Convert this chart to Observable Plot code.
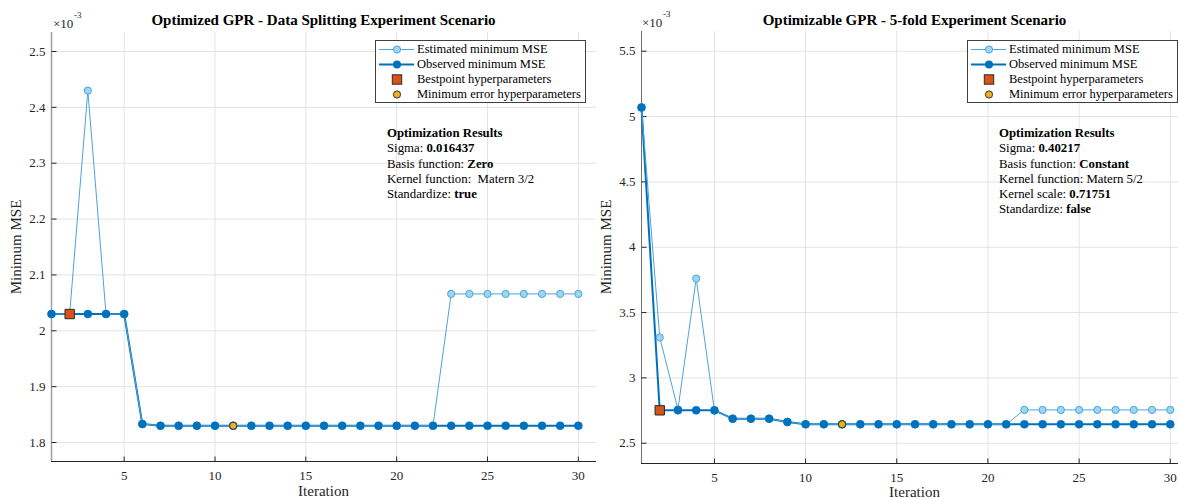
<!DOCTYPE html>
<html>
<head>
<meta charset="utf-8">
<script src="https://cdn.jsdelivr.net/npm/d3@7"></script>
<script src="https://cdn.jsdelivr.net/npm/@observablehq/plot@0.6"></script>
<style>
html, body { margin: 0; padding: 0; overflow: hidden; background: #fff; width: 1178px; height: 499px; }
#root { position: relative; width: 1178px; height: 499px; font-family: "Liberation Serif", "Times New Roman", serif; color: #000; overflow: hidden; }
#root svg, #root svg text { font-family: "Liberation Serif", "Times New Roman", serif !important; }
.abs { position: absolute; white-space: nowrap; }
.title { font-weight: bold; font-size: 15px; line-height: 17px; transform: translateX(-50%); }
.xlab { font-size: 15px; line-height: 13px; transform: translateX(-50%); color: #262626; }
.ylab { font-size: 15px; line-height: 17px; transform: translate(-50%, -50%) rotate(-90deg); color: #262626; }
.exp { font-size: 13px; line-height: 13px; color: #262626; }
.exp2 { font-size: 9px; line-height: 9px; color: #262626; }
.legend { border: 1px solid #404040; background: #fff; width: 209px; padding-top: 1px; box-sizing: content-box; }
.legend .row { height: 15px; display: flex; align-items: center; font-size: 12.5px; }
.legend svg { flex: 0 0 41px; }
.note { font-size: 12.8px; line-height: 15.3px; }
.chart { position: absolute; top: 0; }
</style>
</head>
<body>
<div id="root"></div>
<script>
// ---------- data (MSE values in units of 10^-3) ----------
const iterations = [1,2,3,4,5,6,7,8,9,10,11,12,13,14,15,16,17,18,19,20,21,22,23,24,25,26,27,28,29,30];
const xTicks = [5, 10, 15, 20, 25, 30];

// Left: Optimized GPR - Data Splitting
const leftEstimated = [2.03,2.03,2.43,2.03,2.03,1.833,1.83,1.83,1.83,1.83,1.83,1.83,1.83,1.83,1.83,1.83,1.83,1.83,1.83,1.83,1.83,1.83,2.066,2.066,2.066,2.066,2.066,2.066,2.066,2.066];
const leftObserved  = [2.03,2.03,2.03,2.03,2.03,1.833,1.83,1.83,1.83,1.83,1.83,1.83,1.83,1.83,1.83,1.83,1.83,1.83,1.83,1.83,1.83,1.83,1.83,1.83,1.83,1.83,1.83,1.83,1.83,1.83];
const leftBestpoint = [{iter: 2, mse: 2.03}];
const leftMinError  = [{iter: 11, mse: 1.83}];
const leftYTicks = [1.8, 1.9, 2, 2.1, 2.2, 2.3, 2.4, 2.5];
const leftYDomain = [1.766, 2.534];

// Right: Optimizable GPR - 5-fold
const rightEstimated = [5.07,3.31,2.76,3.76,2.75,2.688,2.688,2.688,2.663,2.645,2.645,2.645,2.645,2.645,2.645,2.645,2.645,2.645,2.645,2.645,2.645,2.755,2.755,2.755,2.755,2.755,2.755,2.755,2.755,2.755];
const rightObserved  = [5.07,2.752,2.752,2.752,2.752,2.688,2.688,2.688,2.663,2.645,2.645,2.645,2.645,2.645,2.645,2.645,2.645,2.645,2.645,2.645,2.645,2.645,2.645,2.645,2.645,2.645,2.645,2.645,2.645,2.645];
const rightBestpoint = [{iter: 2, mse: 2.752}];
const rightMinError  = [{iter: 12, mse: 2.645}];
const rightYTicks = [2.5, 3, 3.5, 4, 4.5, 5, 5.5];
const rightYDomain = [2.345, 5.651];

const leftTitle = "Optimized GPR - Data Splitting Experiment Scenario";
const rightTitle = "Optimizable GPR - 5-fold Experiment Scenario";
const legendLabels = ["Estimated minimum MSE", "Observed minimum MSE", "Bestpoint hyperparameters", "Minimum error hyperparameters"];
const leftNotes = [
  [["Optimization Results", true]],
  [["Sigma: ", false], ["0.016437", true]],
  [["Basis function: ", false], ["Zero", true]],
  [["Kernel function:\u00a0 Matern 3/2", false]],
  [["Standardize: ", false], ["true", true]]
];
const rightNotes = [
  [["Optimization Results", true]],
  [["Sigma: ", false], ["0.40217", true]],
  [["Basis function: ", false], ["Constant", true]],
  [["Kernel function: Matern 5/2", false]],
  [["Kernel scale: ", false], ["0.71751", true]],
  [["Standardize: ", false], ["false", true]]
];

// ---------- styles ----------
const C = {
  obs: "#0072BD", estLine: "#4DA3DC", estFill: "#9DD6F5",
  best: "#D95319", minErr: "#EDB120", grid: "#e3e3e3", axis: "#262626"
};

const tickUp = { draw(ctx) { ctx.moveTo(0, 0); ctx.lineTo(0, -5); } };
const tickRight = { draw(ctx) { ctx.moveTo(0, 0); ctx.lineTo(5, 0); } };

function makeChart({est, obs, best, minErr, yDomain, yTicks, width, mTop, mBottom, yAxisColor, yAxisWidth}) {
  const estData = iterations.map((it, i) => ({iter: it, mse: est[i]}));
  const obsData = iterations.map((it, i) => ({iter: it, mse: obs[i]}));
  return Plot.plot({
    width, height: 499,
    marginLeft: 51, marginRight: 4, marginTop: mTop, marginBottom: mBottom,
    style: {fontFamily: "'Liberation Serif', 'Times New Roman', serif", fontSize: "13px", color: "#262626", background: "transparent", maxWidth: "none", overflow: "visible"},
    x: {domain: [1, 31], ticks: xTicks, tickSize: 0, tickPadding: 9, label: null, tickFormat: d => String(d)},
    y: {domain: yDomain, ticks: yTicks, tickSize: 0, tickPadding: 6, label: null, tickFormat: d => String(d)},
    marks: [
      Plot.ruleX(xTicks, {x: d => d, stroke: C.grid, strokeWidth: 1}),
      Plot.ruleY(yTicks, {y: d => d, stroke: C.grid, strokeWidth: 1}),
      Plot.ruleX([1], {x: d => d, stroke: yAxisColor, strokeWidth: yAxisWidth}),
      Plot.ruleY([yDomain[0]], {y: d => d, stroke: C.axis, strokeWidth: 1}),
      Plot.dot(xTicks, {x: d => d, y: yDomain[0], symbol: tickUp, r: 1, fill: "none", stroke: C.axis, strokeWidth: 1}),
      Plot.dot(yTicks, {x: 1, y: d => d, symbol: tickRight, r: 1, fill: "none", stroke: C.axis, strokeWidth: 1}),
      Plot.line(obsData, {x: "iter", y: "mse", stroke: C.obs, strokeWidth: 2}),
      Plot.line(estData, {x: "iter", y: "mse", stroke: C.estLine, strokeWidth: 1}),
      Plot.dot(estData, {x: "iter", y: "mse", r: 3.6, fill: C.estFill, stroke: C.estLine, strokeWidth: 1}),
      Plot.dot(obsData, {x: "iter", y: "mse", r: 4, fill: C.obs, stroke: C.obs, strokeWidth: 0.5}),
      Plot.dot(best, {x: "iter", y: "mse", symbol: "square", r: 5.3, fill: C.best, stroke: "#2a2a2a", strokeWidth: 1}),
      Plot.dot(minErr, {x: "iter", y: "mse", r: 3.6, fill: C.minErr, stroke: "#333", strokeWidth: 1})
    ]
  });
}

const root = document.getElementById("root");

function addChart(left, width, opts) {
  const div = document.createElement("div");
  div.className = "chart";
  div.style.left = left + "px";
  div.style.width = width + "px";
  div.appendChild(makeChart({...opts, width}));
  root.appendChild(div);
}

function addText(cls, left, top, html) {
  const d = document.createElement("div");
  d.className = "abs " + cls;
  d.style.left = left + "px";
  d.style.top = top + "px";
  d.innerHTML = html;
  root.appendChild(d);
  return d;
}

function addLegend(left, top) {
  const box = document.createElement("div");
  box.className = "abs legend";
  box.style.left = left + "px";
  box.style.top = top + "px";
  const sw = [
    `<line x1="3" x2="38" y1="7.5" y2="7.5" stroke="${C.estLine}" stroke-width="1"/><circle cx="21" cy="7.5" r="3.6" fill="${C.estFill}" stroke="${C.estLine}"/>`,
    `<line x1="3" x2="38" y1="7.5" y2="7.5" stroke="${C.obs}" stroke-width="2"/><circle cx="21" cy="7.5" r="4" fill="${C.obs}"/>`,
    `<rect x="16.3" y="2.8" width="9.4" height="9.4" fill="${C.best}" stroke="#2a2a2a"/>`,
    `<circle cx="21" cy="7.5" r="3.6" fill="${C.minErr}" stroke="#333"/>`
  ];
  legendLabels.forEach((lab, i) => {
    const row = document.createElement("div");
    row.className = "row";
    row.innerHTML = `<svg width="41" height="15">${sw[i]}</svg><span>${lab}</span>`;
    box.appendChild(row);
  });
  root.appendChild(box);
}

function addNotes(left, top, lines) {
  const html = lines.map(parts => parts.map(([t, b]) => b ? `<b>${t}</b>` : t).join("")).join("<br>");
  addText("note", left, top, html);
}

// Left panel
addChart(0, 600, {est: leftEstimated, obs: leftObserved, best: leftBestpoint, minErr: leftMinError,
  yDomain: leftYDomain, yTicks: leftYTicks, mTop: 32, mBottom: 38, yAxisColor: "#a0a0a0", yAxisWidth: 1.5});
// Right panel (extends past the window edge, as in the reference)
addChart(590, 602, {est: rightEstimated, obs: rightObserved, best: rightBestpoint, minErr: rightMinError,
  yDomain: rightYDomain, yTicks: rightYTicks, mTop: 31, mBottom: 36, yAxisColor: "#707070", yAxisWidth: 1});

addText("title", 323.5, 12, leftTitle);
addText("title", 914.5, 12, rightTitle);
addText("exp", 53, 17, "\u00d710");
addText("exp2", 74, 11, "-3");
addText("exp", 642, 16, "\u00d710");
addText("exp2", 663, 10, "-3");
addText("ylab", 16, 246.5, "Minimum MSE");
addText("ylab", 606, 246.5, "Minimum MSE");
addText("xlab", 323.5, 485, "Iteration");
addText("xlab", 914.5, 485.5, "Iteration");
addLegend(375, 40);
addLegend(967, 39.5);
addNotes(387, 126, leftNotes);
addNotes(999, 126, rightNotes);
</script>
</body>
</html>
